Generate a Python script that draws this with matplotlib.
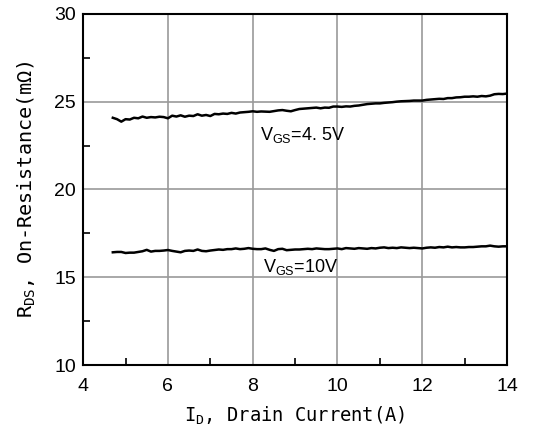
import matplotlib
matplotlib.use("Agg")
import matplotlib.pyplot as plt
import numpy as np
from matplotlib.ticker import MultipleLocator

# drain current samples, 0.1 A steps
drain_current = np.round(np.linspace(4.7, 14.0, 94), 1)

rds_vgs_4v5 = [
    24.08, 24.00, 23.86, 24.00, 23.98, 24.08, 24.05, 24.15, 24.08, 24.12,
    24.10, 24.14, 24.12, 24.05, 24.20, 24.15, 24.22, 24.14, 24.20, 24.18,
    24.28, 24.20, 24.24, 24.18, 24.30, 24.28, 24.32, 24.30, 24.36, 24.32,
    24.38, 24.40, 24.42, 24.45, 24.42, 24.44, 24.43, 24.42, 24.46, 24.50,
    24.52, 24.48, 24.45, 24.52, 24.58, 24.60, 24.62, 24.64, 24.66, 24.62,
    24.66, 24.65, 24.72, 24.72, 24.70, 24.73, 24.72, 24.76, 24.78, 24.82,
    24.86, 24.88, 24.90, 24.90, 24.93, 24.95, 24.97, 25.00, 25.02, 25.03,
    25.04, 25.06, 25.06, 25.06, 25.10, 25.12, 25.14, 25.16, 25.15, 25.20,
    25.20, 25.24, 25.25, 25.28, 25.28, 25.30, 25.28, 25.32, 25.30, 25.34,
    25.42, 25.44, 25.43, 25.46,
]

rds_vgs_10v = [
    16.42, 16.44, 16.44, 16.38, 16.40, 16.40, 16.44, 16.48, 16.56, 16.46,
    16.50, 16.50, 16.52, 16.55, 16.50, 16.46, 16.42, 16.50, 16.52, 16.50,
    16.58, 16.50, 16.48, 16.52, 16.55, 16.58, 16.56, 16.60, 16.60, 16.64,
    16.60, 16.62, 16.66, 16.62, 16.60, 16.60, 16.64, 16.56, 16.50, 16.60,
    16.62, 16.54, 16.56, 16.58, 16.58, 16.60, 16.62, 16.60, 16.64, 16.62,
    16.60, 16.60, 16.62, 16.64, 16.60, 16.66, 16.64, 16.62, 16.66, 16.64,
    16.62, 16.66, 16.64, 16.68, 16.70, 16.66, 16.68, 16.66, 16.70, 16.68,
    16.66, 16.68, 16.66, 16.64, 16.68, 16.70, 16.68, 16.72, 16.70, 16.74,
    16.70, 16.72, 16.70, 16.70, 16.72, 16.72, 16.74, 16.76, 16.76, 16.80,
    16.76, 16.74, 16.76, 16.76,
]

fig = plt.figure(figsize=(5.47, 4.32), dpi=100)
ax = fig.add_axes([0.152, 0.155, 0.775, 0.813])

ax.plot(drain_current, rds_vgs_4v5, color="black", linewidth=1.8)
ax.plot(drain_current, rds_vgs_10v, color="black", linewidth=1.8)

ax.set_xlim(4, 14)
ax.set_ylim(10, 30)
ax.xaxis.set_major_locator(MultipleLocator(2))
ax.xaxis.set_minor_locator(MultipleLocator(1))
ax.yaxis.set_major_locator(MultipleLocator(5))
ax.yaxis.set_minor_locator(MultipleLocator(2.5))
ax.grid(which="major", color="#9a9a9a", linewidth=1.2)
ax.set_axisbelow(True)
ax.tick_params(which="major", length=0, labelsize=14)
ax.tick_params(axis="x", which="major", pad=9)
ax.tick_params(axis="y", which="major", pad=5)
ax.tick_params(which="minor", direction="in", length=5, width=1.2)
for label in ax.get_xticklabels() + ax.get_yticklabels():
    label.set_family("Liberation Sans")
for spine in ax.spines.values():
    spine.set_linewidth(1.5)

ax.set_xlabel(r"I$_\mathregular{D}$, Drain Current(A)", family="DejaVu Sans Mono",
              fontsize=13.5, labelpad=7)
ax.set_ylabel(r"R$_\mathregular{DS}$, On-Resistance(m$\mathregular{\Omega}$)",
              family="DejaVu Sans Mono", fontsize=14.5, labelpad=12)

ax.text(8.17, 23.1, r"V$_\mathregular{GS}$=4. 5V", family="Liberation Sans",
        fontsize=13, va="center")
ax.text(8.25, 15.6, r"V$_\mathregular{GS}$=10V", family="Liberation Sans",
        fontsize=13, va="center")

fig.savefig("out.png", dpi=100)
